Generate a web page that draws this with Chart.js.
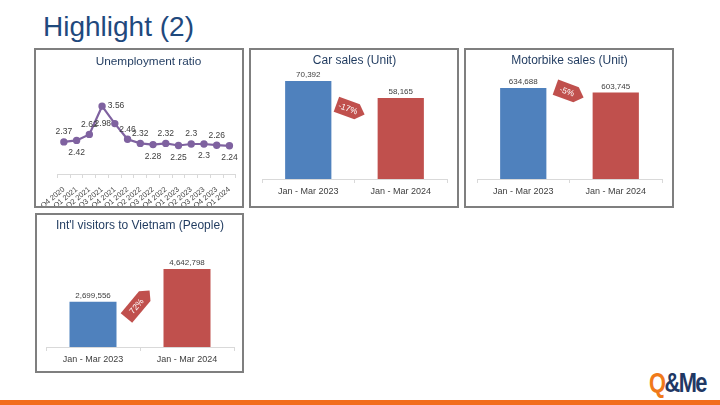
<!DOCTYPE html>
<html>
<head>
<meta charset="utf-8">
<title>Highlight (2)</title>
<script src="https://cdn.jsdelivr.net/npm/chart.js@4.4.1/dist/chart.umd.min.js"></script>
<style>
  body { margin:0; width:720px; height:405px; position:relative; overflow:hidden; background:#fff; font-family:'Liberation Sans', Arial, sans-serif; }
  h1 { position:absolute; left:43px; top:11px; margin:0; font-weight:normal; font-size:28px; line-height:32px; color:#1f497d; }
  .panel { position:absolute; border:2px solid #7f7f7f; box-sizing:border-box; overflow:hidden; background:#fff; }
  .panel canvas { position:absolute; left:0; top:0; }
  .logo { position:absolute; left:649px; top:369px; font-weight:bold; font-size:28px; line-height:28px; letter-spacing:-2px; color:#1f3864; transform:scaleX(0.78); transform-origin:left top; }
  .logo span { color:#f07a1a; }
  .bottom { position:absolute; left:0; top:400px; width:720px; height:5px; background:#f26d1d; }
</style>
</head>
<body>
<h1>Highlight (2)</h1>

<div class="panel" style="left:34px;top:48px;width:210px;height:160px"><canvas id="unemp" width="206" height="170"></canvas></div>
<div class="panel" style="left:249px;top:48px;width:210px;height:160px"><canvas id="cars" width="206" height="156"></canvas></div>
<div class="panel" style="left:464px;top:48px;width:210px;height:160px"><canvas id="bikes" width="206" height="156"></canvas></div>
<div class="panel" style="left:35px;top:213px;width:209px;height:160px"><canvas id="visitors" width="205" height="156"></canvas></div>

<div class="logo"><span>Q</span>&amp;Me</div>
<div class="bottom"></div>

<script>
// chart data
const quarters = ['Q4 2020', 'Q1 2021', 'Q2 2021', 'Q3 2021', 'Q4 2021', 'Q1 2022', 'Q2 2022',
  'Q3 2022', 'Q4 2022', 'Q1 2023', 'Q2 2023', 'Q3 2023', 'Q4 2023', 'Q1 2024']
const unemployment = [2.37, 2.42, 2.62, 3.56, 2.98, 2.46, 2.32, 2.28, 2.32, 2.25, 2.3, 2.3, 2.26, 2.24]
const periods = ['Jan - Mar 2023', 'Jan - Mar 2024']
const carSales = [70392, 58165]
const motorbikeSales = [634688, 603745]
const visitors = [2699556, 4642798]

const titleColor = '#1f3a5f'
const textColor = '#404040'
const axisColor = '#d9d9d9'
const blue = '#4f81bd'
const red = '#c0504d'
const purple = '#7f62a0'
const fontFamily = "'Liberation Sans', Arial, sans-serif"

Chart.defaults.font.family = fontFamily
Chart.defaults.animation = false

// value above each bar
const barValueLabels = {
  id: 'barValueLabels',
  afterDatasetsDraw (chart) {
    const ctx = chart.ctx
    const vals = chart.data.datasets[0].data
    ctx.save()
    ctx.font = '8px ' + fontFamily
    ctx.fillStyle = textColor
    ctx.textAlign = 'center'
    ctx.textBaseline = 'middle'
    chart.getDatasetMeta(0).data.forEach((bar, i) => {
      ctx.fillText(vals[i].toLocaleString('en-US'), bar.x, bar.y - 6)
    })
    ctx.restore()
  }
}

// red arrow tag with the % change between the two bars
const changeTag = {
  id: 'changeTag',
  afterDatasetsDraw (chart, args, opts) {
    const v = chart.data.datasets[0].data
    const bars = chart.getDatasetMeta(0).data
    const pct = Math.round((v[1] - v[0]) / v[0] * 100) + '%'
    const x = (bars[0].x + bars[1].x) / 2 + opts.dx
    const y = chart.scales.y.getPixelForValue(opts.at)
    const w = opts.w, h = opts.h
    const ctx = chart.ctx
    ctx.save()
    ctx.translate(x, y)
    ctx.rotate(opts.angle * Math.PI / 180)
    ctx.beginPath()
    ctx.moveTo(-w / 2, -h / 2)
    ctx.lineTo(w / 2 - h / 2, -h / 2)
    ctx.lineTo(w / 2, 0)
    ctx.lineTo(w / 2 - h / 2, h / 2)
    ctx.lineTo(-w / 2, h / 2)
    ctx.closePath()
    ctx.fillStyle = red
    ctx.fill()
    ctx.fillStyle = '#fff'
    ctx.font = '8.5px ' + fontFamily
    ctx.textAlign = 'center'
    ctx.textBaseline = 'middle'
    ctx.fillText(pct, -h / 6, 0.5)
    ctx.restore()
  }
}

// labels next to line points
const pointLabels = {
  id: 'pointLabels',
  afterDatasetsDraw (chart, args, opts) {
    const ctx = chart.ctx
    const vals = chart.data.datasets[0].data
    ctx.save()
    ctx.font = '8.5px ' + fontFamily
    ctx.fillStyle = textColor
    ctx.textAlign = 'center'
    ctx.textBaseline = 'middle'
    chart.getDatasetMeta(0).data.forEach((p, i) => {
      let x = p.x, y = p.y
      const where = opts.place[i]
      if (where === 'above') y -= 10
      else if (where === 'below') y += 12
      else if (where === 'right') { x += 14; y -= 1 }
      else x -= 12
      ctx.fillText(String(vals[i]), x, y)
    })
    ctx.restore()
  }
}

new Chart(document.getElementById('unemp'), {
  type: 'line',
  data: {
    labels: quarters,
    datasets: [{
      data: unemployment,
      borderColor: purple,
      backgroundColor: purple,
      borderWidth: 2.2,
      pointRadius: 2.6,
      tension: 0
    }]
  },
  options: {
    responsive: false,
    layout: { padding: { left: 21.5, right: 2.5, top: 0, bottom: 0 } },
    plugins: {
      legend: { display: false },
      tooltip: { enabled: false },
      title: { display: true, text: 'Unemployment ratio', color: titleColor, font: { size: 11.8, weight: 'normal' }, padding: { top: 5, bottom: 5.8 } },
      pointLabels: { place: ['above', 'below', 'above', 'right', 'left', 'above', 'above', 'below', 'above', 'below', 'above', 'below', 'above', 'below'] }
    },
    scales: {
      x: {
        offset: true,
        grid: { drawOnChartArea: false, offset: true, tickLength: 4, color: axisColor },
        border: { color: axisColor },
        ticks: { color: textColor, font: { size: 7.5 }, minRotation: 40, maxRotation: 40, autoSkip: false, padding: 7 },
        afterFit: s => { s.height = 46; s.paddingLeft = 0; s.paddingRight = 0 }
      },
      y: { display: false, min: 1.3, max: 4.6 }
    }
  },
  plugins: [pointLabels]
})

function barChart (id, title, values, o) {
  new Chart(document.getElementById(id), {
    type: 'bar',
    data: {
      labels: periods,
      datasets: [{ data: values, backgroundColor: [blue, red], categoryPercentage: 1, barPercentage: 0.5 }]
    },
    options: {
      responsive: false,
      layout: { padding: o.padding },
      plugins: {
        legend: { display: false },
        tooltip: { enabled: false },
        title: { display: true, text: title, color: titleColor, font: { size: 12, weight: 'normal' }, padding: { top: 3.8, bottom: 11.8 } },
        changeTag: o.tag
      },
      scales: {
        x: {
          grid: { drawOnChartArea: false, tickLength: 4, color: axisColor },
          border: { color: axisColor },
          ticks: { color: textColor, font: { size: 9 }, padding: 3 },
          afterFit: s => { s.height = o.axisHeight }
        },
        y: { display: false, min: 0, max: Math.max(...values) * o.headroom }
      }
    },
    plugins: [barValueLabels, changeTag]
  })
}

barChart('cars', 'Car sales (Unit)', carSales, {
  padding: { left: 11, right: 10, top: 0, bottom: 0 },
  axisHeight: 27,
  headroom: 1.01,
  tag: { at: 50000, dx: -4, w: 30, h: 16, angle: 20 }
})

barChart('bikes', 'Motorbike sales (Unit)', motorbikeSales, {
  padding: { left: 11, right: 10, top: 0, bottom: 0 },
  axisHeight: 27,
  headroom: 1.088,
  tag: { at: 605000, dx: 0, w: 30, h: 16, angle: 20 }
})

barChart('visitors', "Int'l visitors to Vietnam (People)", visitors, {
  padding: { left: 9, right: 8, top: 0, bottom: 0 },
  axisHeight: 24,
  headroom: 1.308,
  tag: { at: 2550000, dx: -2, w: 36, h: 15, angle: -50 }
})
</script>
</body>
</html>
